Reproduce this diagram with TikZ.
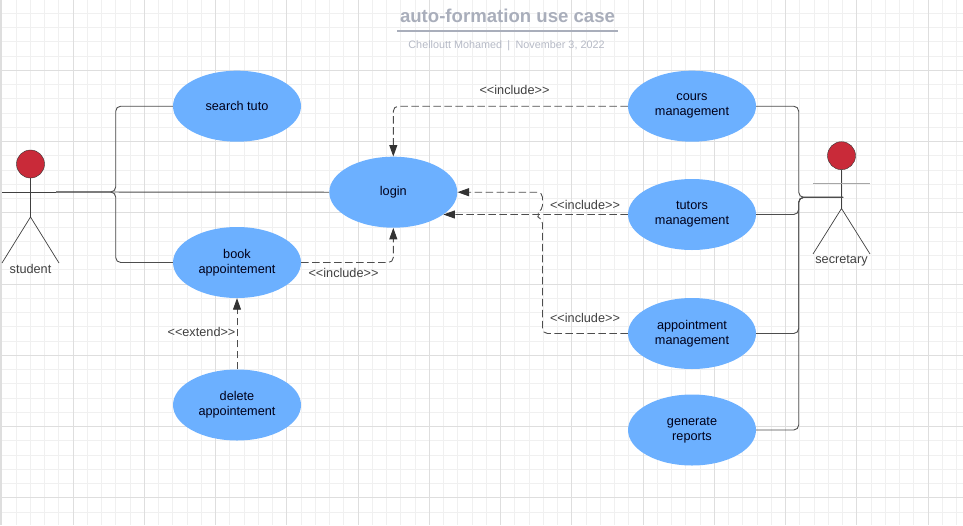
\documentclass[tikz,border=0pt]{standalone}
\usepackage{fontspec}
\setmainfont{Liberation Sans}
\usetikzlibrary{shapes.geometric,arrows.meta}
\definecolor{casefill}{HTML}{6CB0FF}
\definecolor{headfill}{HTML}{C92A39}
\definecolor{gridminor}{HTML}{F0F0F0}
\definecolor{gridmajor}{HTML}{DEDEDE}
\definecolor{wirecolor}{HTML}{4D4D4D}
\definecolor{titlecolor}{HTML}{A9AEBB}
\definecolor{subcolor}{HTML}{B6BAC6}
\newcommand{\incl}{<{}<include>{}>}
\tikzset{
  usecase/.style={ellipse, fill=casefill, minimum width=128pt, minimum height=71pt,
    inner sep=0pt, align=center, text=black!90!blue, font=\fontsize{12.7}{15}\selectfont},
  head/.style={circle, draw=black!80, fill=headfill, minimum size=28pt, inner sep=0pt},
  tag/.style={text=black!75, inner sep=0pt, font=\fontsize{12.7}{15}\selectfont},
  limb/.style={draw=black!75, line width=0.7pt},
  assoc/.style={draw=wirecolor, line width=0.9pt, rounded corners=5pt},
  dep/.style={draw=wirecolor, line width=0.9pt, rounded corners=5pt, dash pattern=on 7.5pt off 3.5pt,
    -{Triangle[length=11.5pt,width=8pt,color=black!80]}}
}
\begin{document}
\begin{tikzpicture}[x=1pt, y=-1pt]
    \useasboundingbox (0,0) rectangle (963,525);
    \fill[white] (0,0) rectangle (963,525);
    \foreach \i in {0,...,67} {
        \draw[gridminor, line width=1pt] ({1.75+14.25*\i},0) -- ({1.75+14.25*\i},525);
    }
    \foreach \i in {0,...,37} {
        \draw[gridminor, line width=1pt] (0,{-1+14.25*\i}) -- (963,{-1+14.25*\i});
    }
    \foreach \i in {0,...,13} {
        \draw[gridmajor, line width=1pt] ({1.75+71.25*\i},0) -- ({1.75+71.25*\i},525);
    }
    \foreach \i in {0,...,7} {
        \draw[gridmajor, line width=1pt] (0,{-1+71.25*\i}) -- (963,{-1+71.25*\i});
    }
    \fill[gridmajor] (0,0) rectangle (2,525);

    \node[inner sep=0pt, text=titlecolor, font=\fontsize{18.6}{20}\selectfont\bfseries] (title) at (507.5,16) {auto-formation use case};
    \coordinate (ruleleft) at (397,31);
    \coordinate (ruleright) at (618,31);
    \draw[titlecolor, line width=1.5pt] (ruleleft) -- (ruleright);
    \node[inner sep=0pt, text=subcolor, font=\fontsize{10.8}{12}\selectfont] (byline) at (506.5,46) {Chelloutt Mohamed\enspace|\enspace November 3, 2022};

    \node[usecase] (search) at (237,106.2) {search tuto};
    \node[usecase] (book) [below of=search, node distance=156.3pt] {book\\appointement};
    \node[usecase] (delete) [below of=book, node distance=142.5pt] {delete\\appointement};
    \node[usecase] (login) at (393.3,192.2) {login};
    \node[usecase] (cours) at (692,106.2) {cours\\management};
    \node[usecase] (tutors) [below of=cours, node distance=108.3pt] {tutors\\management};
    \node[usecase] (appointment) [below of=tutors, node distance=119pt] {appointment\\management};
    \node[usecase] (reports) [below of=appointment, node distance=96.5pt] {generate\\reports};

    % student
    \node[head] (studenthead) at (30.5,164) {};
    \coordinate (studenthip) at (30.5,217);
    \coordinate (studentleft) at (2,192);
    \coordinate (studenthub) at (56,192);
    \coordinate (studentbend) at (115.7,192);
    \coordinate (studentfootl) at (2,263);
    \coordinate (studentfootr) at (59,263);
    \draw[limb] (studenthead) -- (studenthip);
    \draw[limb] (studentleft) -- (studenthub);
    \draw[limb] (studentfootl) -- (studenthip) -- (studentfootr);
    \node[tag] (studentname) at (30.5,269) {student};

    % secretary
    \node[head] (sechead) at (841.5,155.7) {};
    \coordinate (sechip) at (841.5,208.5);
    \coordinate (secarml) at (813,183.7);
    \coordinate (secarmr) at (870,183.7);
    \coordinate (sechub) at (843,197.3);
    \coordinate (secbend) at (798.7,197.3);
    \coordinate (secfootl) at (813,254);
    \coordinate (secfootr) at (870,254);
    \draw[limb] (sechead) -- (sechip);
    \draw[black!35, line width=0.9pt] (secarml) -- (secarmr);
    \draw[limb] (secfootl) -- (sechip) -- (secfootr);
    \node[tag] (secname) at (841.5,261) {secretary};

    \draw[assoc] (search.west) -| (studentbend) -- (studenthub);
    \draw[assoc] (book.west) -| (studentbend) -- (studenthub);
    \draw[assoc] (login.west) -- (studenthub);
    \draw[assoc] (cours.east) -| (secbend) -- (sechub);
    \draw[assoc] (tutors.east) -| (secbend) -- (sechub);
    \draw[assoc] (appointment.east) -| (secbend) -- (sechub);
    \draw[assoc] (reports.east) -| (secbend) -- (sechub);

    \coordinate (hoplow) at (542.5,218.5);
    \coordinate (hoptop) at (542.5,210.5);
    \draw[dep] (cours.west) -| (login.north);
    \draw[dep] (book.east) -| (login.south);
    \draw[dep] (tutors.west) -- (login.-24);
    \draw[dep] (appointment.west) -| (hoplow) .. controls (538.5,217) and (538.5,212) .. (hoptop) |- (login.east);
    \draw[dep] (delete.north) -- (book.south);

    \node[tag] (inc1) at (514.5,90) {\incl};
    \node[tag] (inc2) at (585,205) {\incl};
    \node[tag] (inc3) at (585,318) {\incl};
    \node[tag] (inc4) at (343.5,273) {\incl};
    \node[tag] (ext1) at (201.5,332) {<{}<extend>{}>};
\end{tikzpicture}
\end{document}
